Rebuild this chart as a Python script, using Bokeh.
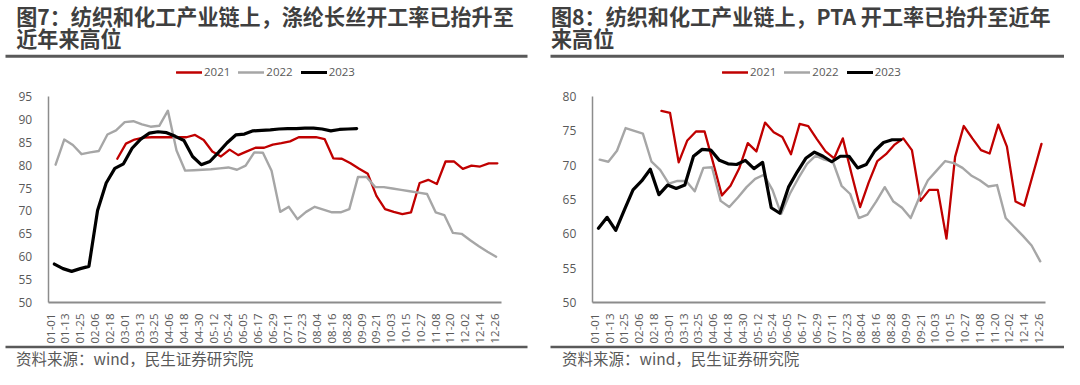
from datetime import date
import numpy as np
from bokeh.plotting import figure
from bokeh.models import Range1d, FixedTicker, Label, BoxAnnotation, Legend, LegendItem
from bokeh.layouts import row
from bokeh.embed import file_html
from bokeh.resources import INLINE

# ---------------- data ----------------
tick_labels = ["01-01", "01-13", "01-25", "02-06", "02-18", "03-01", "03-13", "03-25",
               "04-06", "04-18", "04-30", "05-12", "05-24", "06-05", "06-17", "06-29",
               "07-11", "07-23", "08-04", "08-16", "08-28", "09-09", "09-21", "10-03",
               "10-15", "10-27", "11-08", "11-20", "12-02", "12-14", "12-26"]
tick_step_days = 12

years = ["2021", "2022", "2023"]
start_dates = {"2021": date(2021, 2, 24), "2022": date(2022, 1, 5), "2023": date(2023, 1, 4)}

c7_title = ["图7：纺织和化工产业链上，涤纶长丝开工率已抬升至", "近年来高位"]
c7_2021 = [81.4, 84.7, 85.6, 86.0, 86.1, 86.1, 86.1, 86.1, 86.1, 86.6, 85.5, 83.0, 81.9, 83.4,
           82.2, 83.0, 83.8, 83.8, 84.5, 84.8, 85.2, 86.1, 86.1, 86.1, 85.7, 81.5, 81.4, 80.4,
           79.2, 78.1, 73.3, 70.4, 69.8, 69.3, 69.7, 76.1, 76.8, 75.9, 80.8, 80.8, 79.2, 79.9,
           79.7, 80.4, 80.4]
c7_2022 = [80.1, 85.6, 84.4, 82.4, 82.8, 83.1, 86.7, 87.6, 89.4, 89.6, 88.9, 88.4, 88.6, 91.9,
           83.2, 78.8, 78.9, 79.0, 79.1, 79.3, 79.5, 79.0, 79.9, 82.8, 82.7, 78.8, 69.8, 70.9,
           68.2, 69.8, 70.9, 70.3, 69.7, 69.7, 70.4, 77.4, 77.4, 75.2, 75.2, 74.9, 74.6, 74.3,
           74.0, 73.7, 69.7, 69.1, 65.2, 65.0, 63.6, 62.3, 61.1, 60.0]
c7_2023 = [58.4, 57.4, 56.8, 57.4, 57.9, 70.1, 76.1, 79.3, 80.3, 83.7, 85.7, 87.0, 87.3, 87.1,
           86.3, 85.4, 81.9, 80.1, 80.8, 82.8, 84.9, 86.6, 86.8, 87.5, 87.6, 87.7, 87.9, 88.0,
           88.0, 88.1, 88.1, 87.9, 87.5, 87.8, 87.9, 88.0]

c8_title = ["图8：纺织和化工产业链上，PTA 开工率已抬升至近年", "来高位"]
c8_2021 = [77.9, 77.6, 70.4, 73.6, 74.9, 74.9, 70.3, 65.6, 67.0, 69.5, 73.2, 72.0, 76.2, 74.8,
           74.1, 71.6, 76.0, 75.7, 73.8, 72.0, 71.0, 73.9, 68.8, 63.9, 67.5, 70.6, 71.6, 73.0,
           73.9, 72.2, 64.8, 66.4, 66.4, 59.3, 71.2, 75.7, 73.9, 72.2, 71.7, 75.9, 72.7, 64.7,
           64.1, 68.6, 73.1]
c8_2022 = [70.8, 70.5, 72.1, 75.4, 75.0, 74.6, 70.5, 69.3, 67.3, 67.7, 67.7, 66.2, 69.6, 69.7,
           64.8, 63.9, 65.3, 66.8, 68.0, 68.6, 66.4, 62.9, 65.8, 68.1, 70.2, 71.4, 70.8, 70.5,
           67.0, 65.8, 62.3, 62.8, 64.7, 66.8, 64.7, 63.8, 62.3, 65.3, 67.8, 69.2, 70.6, 70.3,
           69.6, 68.5, 67.8, 66.9, 67.1, 62.3, 61.0, 59.7, 58.3, 56.0]
c8_2023 = [60.8, 62.4, 60.5, 63.5, 66.4, 67.7, 69.4, 65.7, 67.1, 66.6, 67.1, 71.3, 72.3, 72.2,
           70.7, 70.2, 70.1, 70.7, 69.5, 70.4, 63.8, 63.0, 66.8, 69.0, 71.0, 71.9, 71.3, 70.5,
           71.3, 71.3, 69.6, 70.1, 72.1, 73.3, 73.7, 73.7]

source_text = "资料来源：wind，民生证券研究院"

# ---------------- style / layout ----------------
COLORS = {"2021": "#C00000", "2022": "#A6A6A6", "2023": "#000000"}
WIDTHS = {"2021": 2.3, "2022": 2.4, "2023": 3.2}
FONT_CJK = "Noto Sans CJK SC"
FONT_NUM = "Open Sans"
TXT = "#595959"
TITLE_C = "#3F3F3F"
RULE_C = "#595959"
AXIS_C = "#8C8C8C"

FIG_W, FIG_H = 532, 369
PAGE_TOP = 0
X_START, X_END = -2.0, 365.1        # day span of the plot area
PLOT_W, PLOT_TOP, PLOT_BOTTOM = 453.0, 96.0, 302.0   # figure pixels


def week_days(year, n):
    d0 = start_dates[year]
    doy = (d0 - date(d0.year, 1, 1)).days
    return [doy + 7 * i for i in range(n)]


def make_panel(title_lines, series, y_max, page_left, plot_left, title_px, rule_l, rule_r,
               source_px, legend_px):
    ppd = PLOT_W / (X_END - X_START)
    x0 = X_START - plot_left / ppd
    x1 = X_END + (FIG_W - plot_left - PLOT_W) / ppd
    ppu = (PLOT_BOTTOM - PLOT_TOP) / (y_max - 50)
    y0 = 50 - (FIG_H - PLOT_BOTTOM) / ppu
    y1 = y_max + PLOT_TOP / ppu

    p = figure(width=FIG_W, height=FIG_H, output_backend="svg", toolbar_location=None,
               x_range=Range1d(x0, x1), y_range=Range1d(y0, y1), min_border=0)
    p.title.visible = False
    p.outline_line_color = None
    p.xgrid.visible = False
    p.ygrid.visible = False
    p.background_fill_color = "white"
    p.border_fill_color = "white"

    def sx(page_x):
        return page_x - page_left

    def sy(page_y):
        return FIG_H - (page_y - PAGE_TOP)

    items = []
    for yr, vals in series:
        r = p.line(week_days(yr, len(vals)), vals, line_color=COLORS[yr],
                   line_width=WIDTHS[yr], line_join="round", line_cap="round")
        items.append(LegendItem(label=yr, renderers=[r]))

    xa = p.xaxis[0]
    xa.fixed_location = 50
    xa.bounds = (X_START, X_END)
    xa.ticker = FixedTicker(ticks=[i * tick_step_days for i in range(len(tick_labels))])
    xa.major_label_overrides = {i * tick_step_days: lab for i, lab in enumerate(tick_labels)}
    xa.major_label_orientation = np.pi / 2
    xa.major_tick_line_color = None
    xa.minor_tick_line_color = None
    xa.axis_line_color = AXIS_C
    xa.axis_line_width = 2
    xa.major_label_standoff = 5
    xa.major_label_text_font = FONT_NUM
    xa.major_label_text_font_size = "11.5px"
    xa.major_label_text_color = TXT

    ya = p.yaxis[0]
    ya.fixed_location = X_START
    ya.bounds = (50, y_max)
    ya.ticker = FixedTicker(ticks=list(range(50, y_max + 1, 5)))
    ya.major_tick_line_color = None
    ya.minor_tick_line_color = None
    ya.axis_line_color = AXIS_C
    ya.axis_line_width = 1.5
    ya.major_label_standoff = 10
    ya.major_label_text_font = FONT_NUM
    ya.major_label_text_font_size = "12px"
    ya.major_label_text_color = TXT

    legend = Legend(items=items, location=(sx(legend_px), sy(72) - 7), orientation="horizontal",
                    glyph_width=26, glyph_height=14, label_height=14, label_width=20,
                    label_standoff=2, spacing=8, padding=0, margin=0,
                    border_line_color=None, background_fill_alpha=0,
                    label_text_font=FONT_NUM, label_text_font_size="11.5px",
                    label_text_color=TXT)
    p.add_layout(legend)

    for i, line in enumerate(title_lines):
        p.add_layout(Label(x=sx(title_px), y=sy(15.5 + 22.3 * i), x_units="screen", y_units="screen",
                           text=line, text_font=FONT_CJK, text_font_size="21.1px",
                           text_font_style="bold", text_color=TITLE_C,
                           text_baseline="middle", text_align="left"))
    for top, bottom in [(54.3, 57.3), (345.3, 347.8)]:
        p.add_layout(BoxAnnotation(left=max(sx(rule_l), 0), right=min(sx(rule_r), FIG_W),
                                   top=sy(top), bottom=sy(bottom),
                                   left_units="screen", right_units="screen",
                                   top_units="screen", bottom_units="screen",
                                   fill_color=RULE_C, fill_alpha=1, line_color=None))
    p.add_layout(Label(x=sx(source_px), y=sy(357.0), x_units="screen", y_units="screen",
                       text=source_text, text_font=FONT_CJK, text_font_size="15.5px",
                       text_color=TXT, text_baseline="middle", text_align="left"))
    return p


p7 = make_panel(c7_title, [("2021", c7_2021), ("2022", c7_2022), ("2023", c7_2023)], 95,
                page_left=0, plot_left=47.7, title_px=15.7, rule_l=5, rule_r=527,
                source_px=15.5, legend_px=176)
p8 = make_panel(c8_title, [("2021", c8_2021), ("2022", c8_2022), ("2023", c8_2023)], 80,
                page_left=532, plot_left=59.8, title_px=550.5, rule_l=550, rule_r=1071,
                source_px=561.5, legend_px=722)

layout = row(p7, p8)
open("out.html", "w").write(file_html(layout, INLINE))
